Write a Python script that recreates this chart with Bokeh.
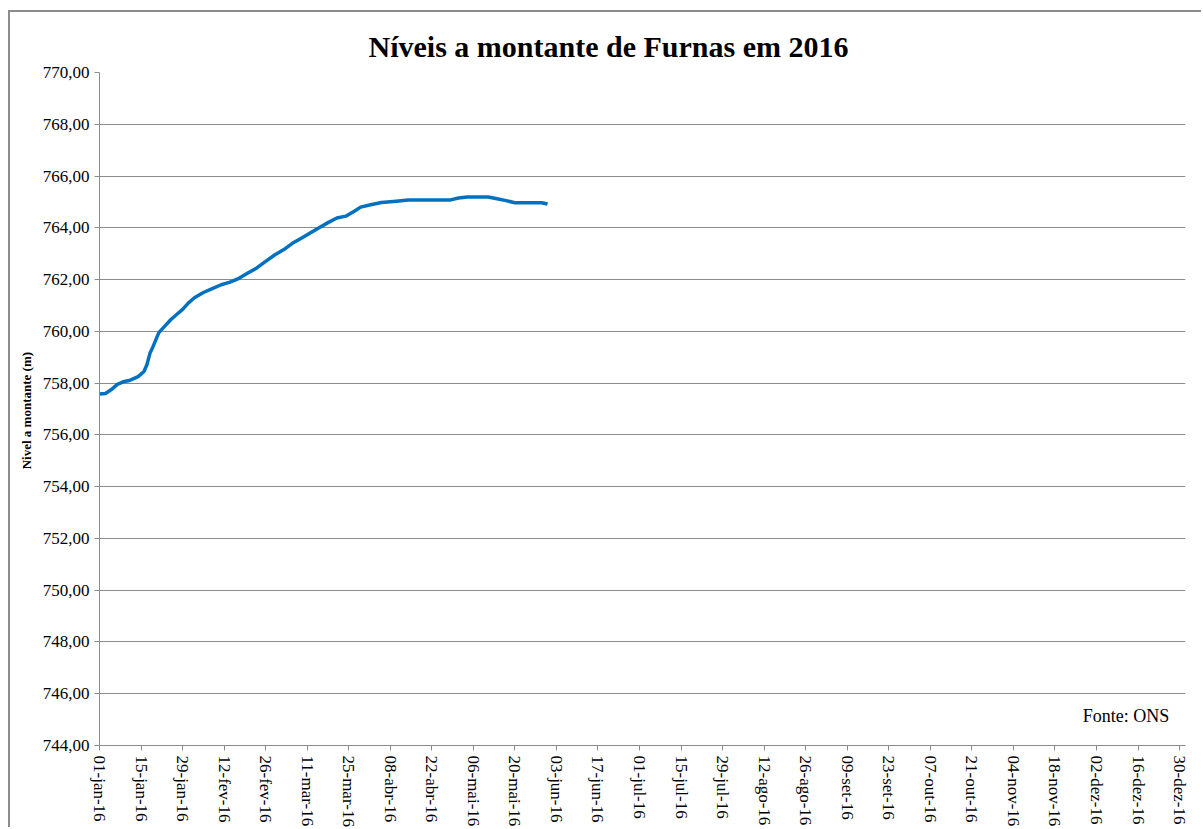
import datetime as dt
from bokeh.plotting import figure
from bokeh.models import Range1d, FixedTicker, Label, ColumnDataSource, CustomJSTickFormatter
from bokeh.embed import file_html
from bokeh.resources import INLINE
import math

# ---- data ----
start = dt.datetime(2016, 1, 1)
day_offsets = [0, 2, 4, 6, 8, 10, 13, 15, 16, 17, 18, 20, 22, 24, 26, 28, 30, 32, 35, 38,
               41, 44, 47, 50, 53, 56, 59, 62, 65, 68, 71, 74, 77, 80, 83, 86, 88, 91, 95,
               100, 104, 110, 118, 121, 124, 131, 134, 137, 140, 145, 149, 151]
levels = [757.58, 757.60, 757.75, 757.95, 758.05, 758.10, 758.25, 758.45, 758.72, 759.15,
          759.40, 759.95, 760.20, 760.45, 760.65, 760.85, 761.10, 761.30, 761.50, 761.65,
          761.80, 761.90, 762.05, 762.25, 762.45, 762.70, 762.95, 763.15, 763.40, 763.60,
          763.80, 764.00, 764.20, 764.38, 764.45, 764.65, 764.80, 764.88, 764.98, 765.03,
          765.07, 765.07, 765.07, 765.15, 765.19, 765.19, 765.12, 765.05, 764.97, 764.97,
          764.97, 764.92]

x_tick_labels = ["01-jan-16", "15-jan-16", "29-jan-16", "12-fev-16", "26-fev-16", "11-mar-16",
                 "25-mar-16", "08-abr-16", "22-abr-16", "06-mai-16", "20-mai-16", "03-jun-16",
                 "17-jun-16", "01-jul-16", "15-jul-16", "29-jul-16", "12-ago-16", "26-ago-16",
                 "09-set-16", "23-set-16", "07-out-16", "21-out-16", "04-nov-16", "18-nov-16",
                 "02-dez-16", "16-dez-16", "30-dez-16"]
y_ticks = [744, 746, 748, 750, 752, 754, 756, 758, 760, 762, 764, 766, 768, 770]
y_tick_labels = ["744,00", "746,00", "748,00", "750,00", "752,00", "754,00", "756,00",
                 "758,00", "760,00", "762,00", "764,00", "766,00", "768,00", "770,00"]

title_text = "Níveis a montante de Furnas em 2016"
y_label = "Nivel a montante  (m)"
source_text = "Fonte: ONS"

# ---- build ----
dates = [start + dt.timedelta(days=d) for d in day_offsets]
src = ColumnDataSource(dict(x=dates, y=levels))

def ms(d):
    return (d - dt.datetime(1970, 1, 1)).total_seconds() * 1000.0

x_tick_dates = [start + dt.timedelta(days=14 * i) for i in range(len(x_tick_labels))]
x_tick_ms = [ms(d) for d in x_tick_dates]

SERIF = "Liberation Serif"

LOOKUP = """
    let best = 0, bd = Infinity;
    for (let i = 0; i < tvals.length; i++) {
        const d = Math.abs(tvals[i] - tick);
        if (d < bd) { bd = d; best = i; }
    }
    return tlabels[best];
"""

p = figure(width=1193, height=817, x_axis_type="datetime",
           output_backend="svg", toolbar_location=None,
           x_range=Range1d(start, dt.datetime(2017, 1, 1)),
           y_range=Range1d(744, 770),
           min_border_left=89, min_border_top=60, min_border_right=18, min_border_bottom=75)

p.margin = (10, 0, 0, 8)
p.styles = {"border-top": "2px solid #8c8c8c", "border-left": "2px solid #8c8c8c"}

p.title.text = title_text
p.title.text_font = SERIF
p.title.text_font_size = "30px"
p.title.text_font_style = "bold"
p.title.align = "left"
p.title.offset = 269
p.title.standoff = 20
p.title.text_color = "#000000"

p.outline_line_color = None
p.background_fill_color = "white"
p.border_fill_color = "white"

p.xgrid.grid_line_color = None
p.ygrid.grid_line_color = "#8c8c8c"
p.ygrid.grid_line_width = 1

xa = p.xaxis[0]
ya = p.yaxis[0]
xa.ticker = FixedTicker(ticks=x_tick_ms)
xa.formatter = CustomJSTickFormatter(args=dict(tvals=x_tick_ms, tlabels=x_tick_labels), code=LOOKUP)
xa.major_label_orientation = -math.pi / 2
ya.ticker = FixedTicker(ticks=y_ticks)
ya.formatter = CustomJSTickFormatter(args=dict(tvals=y_ticks, tlabels=y_tick_labels), code=LOOKUP)

for ax in (xa, ya):
    ax.axis_line_color = "#8c8c8c"
    ax.major_tick_line_color = "#8c8c8c"
    ax.major_tick_out = 5
    ax.major_tick_in = 0
    ax.minor_tick_line_color = None
    ax.major_label_text_font = SERIF
    ax.major_label_text_font_size = "17px"
    ax.major_label_text_color = "#000000"
    ax.major_label_standoff = 5

ya.axis_label = y_label
ya.axis_label_text_font = SERIF
ya.axis_label_text_font_size = "13px"
ya.axis_label_text_font_style = "bold"
ya.axis_label_text_color = "#000000"
ya.axis_label_standoff = 6

p.line("x", "y", source=src, line_color="#0070C0", line_width=3.5)

p.add_layout(Label(x=ms(start + dt.timedelta(days=360.5)), y=745.15, text=source_text,
                   text_align="right", text_baseline="middle",
                   text_font=SERIF, text_font_size="18px", text_color="#000000"))

open("out.html", "w").write(file_html(p, INLINE))
